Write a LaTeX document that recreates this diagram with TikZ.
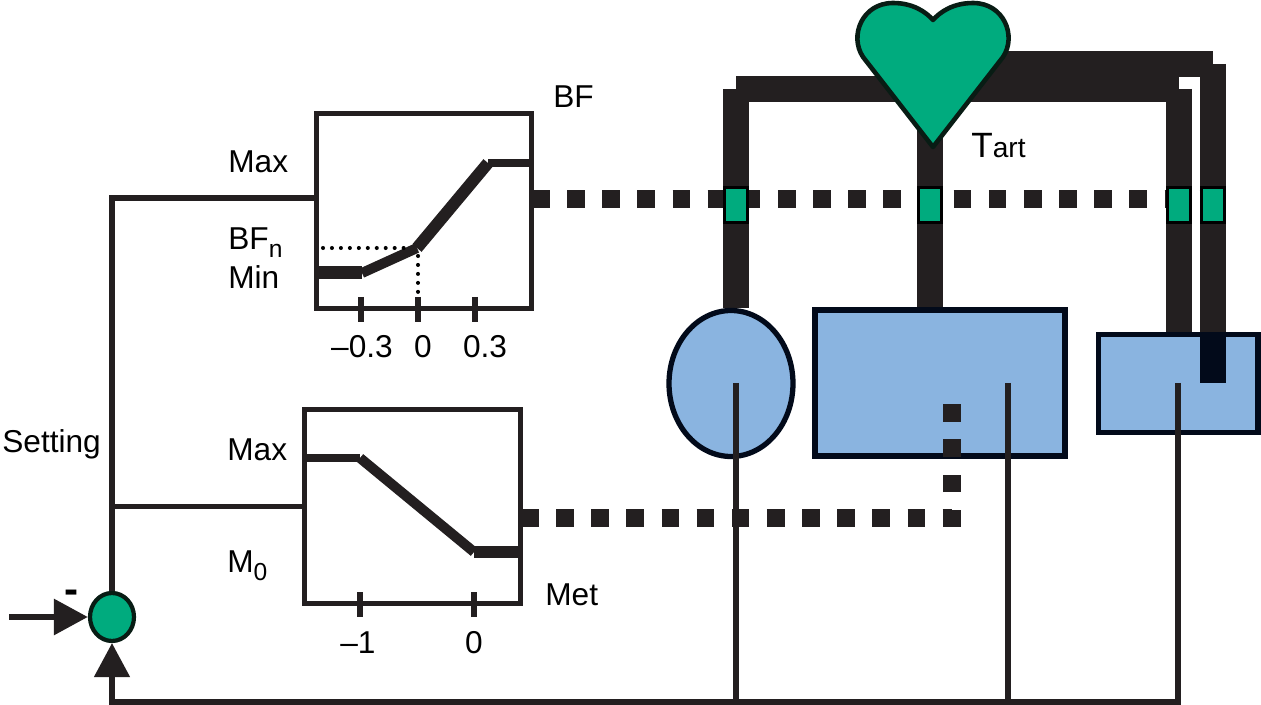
\documentclass[tikz,border=0pt]{standalone}
\usepackage{fontspec}
\setmainfont{Liberation Sans}
\usetikzlibrary{shapes.geometric,arrows.meta,backgrounds}
\definecolor{heartgreen}{RGB}{0,171,126}
\definecolor{heartline}{RGB}{8,28,20}
\definecolor{organblue}{RGB}{138,180,224}
\definecolor{pipecol}{RGB}{35,31,32}
\definecolor{navy}{RGB}{2,10,26}
\newcommand{\lowsub}[1]{\raisebox{-4pt}{\fontsize{14}{14}\selectfont #1}}

\begin{document}
\begin{tikzpicture}[x=0.02cm, y=-0.02cm,
  pipe/.style={line width=14.7pt, draw=pipecol},
  sig/.style={line width=3pt, draw=pipecol},
  dotline/.style={line width=10pt, draw=pipecol, dash pattern=on 10pt off 10pt},
  organ/.style={draw=navy, line width=3pt, fill=organblue, inner sep=0pt},
  sensor/.style={draw=black, fill=heartgreen, line width=1.7pt, minimum width=0.46cm, minimum height=0.7cm, inner sep=0pt},
  plotbox/.style={draw=pipecol, line width=3pt, inner sep=0pt},
  lbl/.style={inner sep=0pt, font=\fontsize{18}{20}\selectfont},
  tickmark/.style={line width=3pt, draw=pipecol}]
\useasboundingbox (0,0) rectangle (1261,705);

\node[plotbox, minimum width=4.3cm, minimum height=3.9cm] (bfplot) at (424,211) {};
\node[plotbox, minimum width=4.32cm, minimum height=3.88cm] (metplot) at (412.5,506.5) {};
\node[ellipse, draw=heartline, fill=heartgreen, line width=2.4pt, minimum width=0.88cm, minimum height=0.96cm, inner sep=0pt] (cmp) at (112,617) {};
\node[organ, ellipse, minimum width=2.48cm, minimum height=2.92cm] (brain) at (731,383.5) {};
\node[organ, minimum width=5cm, minimum height=2.92cm] (muscle) at (940,383) {};
\node[organ, minimum width=3.19cm, minimum height=1.96cm] (skin) at (1178.25,383.5) {};

\coordinate (lcorner) at (736,89);
\coordinate (rcorner) at (1179,89);
\coordinate (heartc) at (933,64);
\coordinate (fcorner) at (1213,64);
\coordinate (htip) at (930,110);
\coordinate (sblock) at (1213,383);
\coordinate (bfout) at (532,199);
\coordinate (bfend) at (1226,199);
\coordinate (metout) at (521,518);
\coordinate (metend) at (952,394);
\coordinate (bfin) at (316.5,198);
\coordinate (setin) at (9,617);
\coordinate (fb) at (112,702);
\coordinate (bcore) at (736,383);
\coordinate (mcore) at (1008,383);
\coordinate (score) at (1178,383);

\begin{scope}[on background layer]
\draw[pipe] (lcorner) -- (rcorner);
\draw[pipe] (lcorner) -- (lcorner |- brain.north);
\draw[pipe] (rcorner) -- (rcorner |- skin.north);
\draw[pipe] (heartc) -- (fcorner);
\draw[pipe] (fcorner) -- (fcorner |- skin.north);
\draw[pipe] (htip) -- (htip |- muscle.north);
\draw[dotline] (bfout) -- (bfend);
\end{scope}

\draw[fill=heartgreen, draw=heartline, line width=2.6pt, line join=round] (933,147) -- (863,57) .. controls (849,36) and (862,3) .. (893,3) .. controls (913,3) and (926,12) .. (933,20) .. controls (940,12) and (953,3) .. (973,3) .. controls (1004,3) and (1017,36) .. (1003,57) -- cycle;
\foreach \x [count=\i] in {736,930,1179,1213}
  \node[sensor] (s\i) at (\x,205) {};
\draw[pipe, draw=navy] (fcorner |- skin.north) -- (sblock);

\draw[line width=7.4pt, draw=pipecol] (319,273) -- (362,273);
\draw[line width=5.7pt, draw=pipecol] (362,273) -- (417,248);
\draw[line width=6.8pt, draw=pipecol] (417,248) -- (488,163);
\draw[line width=4.5pt, draw=pipecol] (488,163) -- (530,163);
\draw[line width=2.3pt, line cap=round, dash pattern=on 0pt off 5.1pt] (323,248) -- (410,248);
\draw[line width=2.3pt, line cap=round, dash pattern=on 0pt off 5.1pt] (418,256) -- (418,296);
\foreach \x in {361,418,475}
  \draw[tickmark] (\x,297) -- (\x,322);

\draw[line width=4.5pt, draw=pipecol] (305,458) -- (360,458);
\draw[line width=5.7pt, draw=pipecol] (360,458) -- (474,552);
\draw[line width=6.8pt, draw=pipecol] (474,552) -- (519,552);
\foreach \x in {360,474}
  \draw[tickmark] (\x,592) -- (\x,617);

\node[lbl, anchor=base west] (bflabel) at (553,108) {BF};
\node[lbl, anchor=base west] (bfmax) at (228,173) {Max};
\node[lbl, anchor=base west] (bfn) at (228,250) {BF\lowsub{n}};
\node[lbl, anchor=base west] (bfmin) at (228,289) {Min};
\node[lbl, anchor=base] (bfta) at (362,358) {–0.3};
\node[lbl, anchor=base] (bftb) at (423,358) {0};
\node[lbl, anchor=base] (bftc) at (485,358) {0.3};
\node[lbl, anchor=base west] (metmax) at (227,461) {Max};
\node[lbl, anchor=base west] (mzero) at (227,573) {M\lowsub{0}};
\node[lbl, anchor=base] (metta) at (358,653) {–1};
\node[lbl, anchor=base] (mettb) at (474,653) {0};
\node[lbl, anchor=base west] (metlabel) at (545,605) {Met};
\node[lbl, anchor=base west] (setting) at (2,453) {Setting};
\node[lbl, anchor=base west, font=\fontsize{20}{22}\selectfont] (tart) at (971,158) {T{\fontsize{16}{16}\selectfont art}};
\node[lbl, font=\fontsize{24}{26}\selectfont\bfseries] (minus) at (72,597) {-};

\draw[sig] (cmp.north) |- (bfin);
\draw[sig] (cmp.north |- metplot.west) -- (metplot.west);
\draw[line width=3.6pt, draw=pipecol, -{Triangle[length=19.3pt, width=19.8pt]}] (setin) -- (cmp.west);
\draw[sig, -{Triangle[length=19.3pt, width=19.8pt]}] (score) |- (fb) -- (cmp.south);
\draw[sig] (bcore) -- (bcore |- fb);
\draw[sig] (mcore) -- (mcore |- fb);
\draw[dotline] (metout) -| (metend);
\end{tikzpicture}
\end{document}
